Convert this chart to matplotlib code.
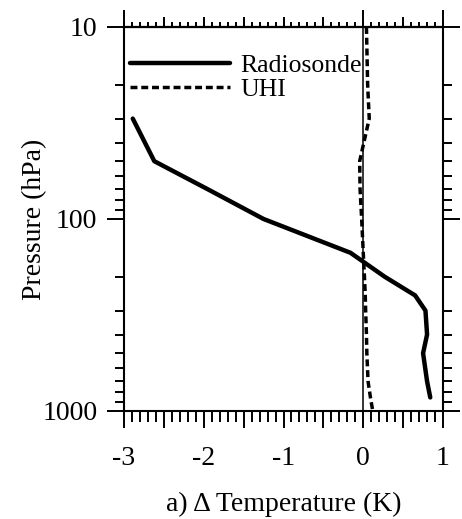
import matplotlib
matplotlib.use("Agg")
import matplotlib.pyplot as plt
import numpy as np
from matplotlib.ticker import FixedLocator, FuncFormatter

# radiosonde temperature difference profile
p_radio = [30, 50, 70, 100, 150, 200, 250, 300, 400, 500, 700, 850]
t_radio = [-2.89, -2.62, -1.95, -1.25, -0.16, 0.27, 0.65, 0.78, 0.80, 0.75, 0.80, 0.84]

# urban heat island profile
p_uhi = [10, 20, 30, 50, 70, 100, 150, 200, 250, 300, 400, 500, 700, 850, 925, 1000]
t_uhi = [0.04, 0.055, 0.075, -0.045, -0.04, -0.02, 0.0, 0.015, 0.025, 0.03, 0.04, 0.045, 0.06, 0.09, 0.105, 0.12]

p_ticks = [10, 100, 1000]
x_min, x_max = -3, 1

plt.rcParams['font.family'] = 'serif'
plt.rcParams['font.serif'] = ['Liberation Serif', 'DejaVu Serif']
fs_tick = 20
fs_lab = 20
fs_leg = 18.5

fig = plt.figure(figsize=(4.62, 5.19), dpi=100)
ax = fig.add_axes([0.2684, 0.2081, 0.6905, 0.7399])

ax.axvline(0, color='black', lw=1.1, zorder=1)
ax.plot(t_radio, p_radio, color='black', lw=3.2, solid_capstyle='round',
        solid_joinstyle='round', label='Radiosonde', zorder=3)
ax.plot(t_uhi, p_uhi, color='black', lw=2.5, linestyle=(0, (2.0, 1.1)),
        dash_capstyle='butt', label='UHI', zorder=2)

ax.set_yscale('log')
ax.set_ylim(1000, 10)
ax.set_xlim(x_min, x_max)

for s in ax.spines.values():
    s.set_linewidth(1.5)

# y axis: ticks both sides
ax.set_yticks(p_ticks)
ax.set_yticklabels([str(p) for p in p_ticks])
ax.tick_params(axis='y', which='major', direction='out', length=12.2, width=1.4,
               left=True, right=True, labelsize=fs_tick, pad=7)
ax.tick_params(axis='y', which='minor', direction='out', length=6.5, width=1.4,
               left=True, right=True)

# bottom x axis: long ticks every 0.5, short every 0.1, labels on integers
ax.xaxis.set_major_locator(FixedLocator(np.arange(x_min, x_max + 0.01, 0.5)))
ax.xaxis.set_minor_locator(FixedLocator(np.arange(x_min, x_max + 0.01, 0.1)))
ax.xaxis.set_major_formatter(FuncFormatter(
    lambda v, pos: '%d' % round(v) if abs(v - round(v)) < 1e-6 else ''))
ax.tick_params(axis='x', which='major', direction='out', length=12.2, width=1.4,
               bottom=True, top=False, labelsize=fs_tick, pad=13)
ax.tick_params(axis='x', which='minor', direction='out', length=7.9, width=1.4,
               bottom=True, top=False)

# top x axis: three tick levels
top1 = ax.secondary_xaxis('top')
top1.xaxis.set_major_locator(FixedLocator([x_min, 0, x_max]))
top1.xaxis.set_minor_locator(FixedLocator(np.arange(x_min, x_max + 0.01, 0.5)))
top1.tick_params(which='major', direction='out', length=12.2, width=1.4, labeltop=False)
top1.tick_params(which='minor', direction='out', length=7.2, width=1.4)
top1.spines['top'].set_linewidth(1.5)

top2 = ax.secondary_xaxis('top')
top2.xaxis.set_major_locator(FixedLocator(np.arange(x_min, x_max + 0.01, 0.1)))
top2.xaxis.set_minor_locator(FixedLocator([]))
top2.tick_params(which='major', direction='out', length=3.6, width=1.4, labeltop=False)
top2.spines['top'].set_linewidth(1.5)

ax.set_ylabel('Pressure (hPa)', fontsize=fs_lab)
ax.yaxis.set_label_coords(-0.24, 0.5)
ax.set_xlabel('a) \u0394 Temperature (K)', fontsize=fs_lab, labelpad=15)

ax.legend(loc='upper left', bbox_to_anchor=(0.019, 0.93), frameon=False,
          fontsize=fs_leg, handlelength=3.9, handletextpad=0.4, borderpad=0,
          borderaxespad=0, labelspacing=0.05)

fig.savefig('out.png', dpi=100)
